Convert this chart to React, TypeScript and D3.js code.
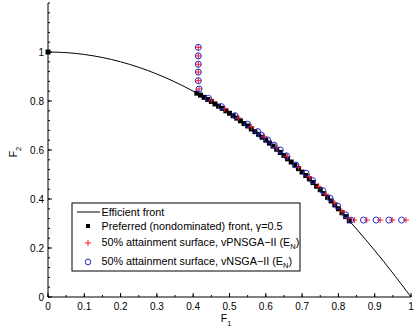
import React from "react";
import * as d3 from "d3";

// Efficient front samples (F1, F2)
const frontF1 = [0, 0.05, 0.1, 0.15, 0.2, 0.25, 0.3, 0.35, 0.4, 0.45, 0.5, 0.55, 0.6, 0.65, 0.7, 0.75, 0.8, 0.85, 0.9, 0.95, 1];
const frontF2 = [1, 0.9975, 0.99, 0.9775, 0.96, 0.9375, 0.91, 0.8775, 0.84, 0.7975, 0.75, 0.6975, 0.64, 0.5775, 0.51, 0.4375, 0.36, 0.2775, 0.19, 0.0975, 0];

// Preferred (nondominated) front points
const prefF1 = [0, 0.41, 0.42, 0.43, 0.44, 0.45, 0.46, 0.47, 0.48, 0.49, 0.5, 0.51, 0.52, 0.53, 0.54, 0.55, 0.56, 0.57, 0.58, 0.59, 0.6, 0.61, 0.62, 0.63, 0.64, 0.65, 0.66, 0.67, 0.68, 0.69, 0.7, 0.71, 0.72, 0.73, 0.74, 0.75, 0.76, 0.77, 0.78, 0.79, 0.8, 0.81, 0.82, 0.83];
const prefF2 = [1, 0.832, 0.824, 0.815, 0.806, 0.798, 0.788, 0.779, 0.77, 0.76, 0.75, 0.74, 0.73, 0.719, 0.708, 0.698, 0.686, 0.675, 0.664, 0.652, 0.64, 0.628, 0.616, 0.603, 0.59, 0.578, 0.564, 0.551, 0.538, 0.524, 0.51, 0.496, 0.482, 0.467, 0.452, 0.438, 0.422, 0.407, 0.392, 0.376, 0.36, 0.344, 0.328, 0.311];

// 50% attainment surface, vPNSGA-II (red +)
const plusF1 = [0.414, 0.414, 0.414, 0.414, 0.414, 0.416, 0.45, 0.487, 0.524, 0.56, 0.595, 0.63, 0.66, 0.69, 0.72, 0.745, 0.765, 0.79, 0.81, 0.828, 0.844, 0.878, 0.915, 0.948, 0.986];
const plusF2 = [1.019, 0.984, 0.95, 0.918, 0.883, 0.849, 0.803, 0.768, 0.731, 0.694, 0.656, 0.61, 0.573, 0.53, 0.49, 0.452, 0.42, 0.383, 0.35, 0.322, 0.314, 0.314, 0.314, 0.314, 0.314];

// 50% attainment surface, vNSGA-II (blue o)
const circF1 = [0.414, 0.414, 0.414, 0.414, 0.414, 0.416, 0.442, 0.478, 0.515, 0.55, 0.578, 0.587, 0.605, 0.623, 0.64, 0.657, 0.683, 0.711, 0.729, 0.757, 0.777, 0.798, 0.82, 0.834, 0.869, 0.904, 0.939, 0.974];
const circF2 = [1.019, 0.984, 0.95, 0.918, 0.883, 0.849, 0.811, 0.777, 0.74, 0.705, 0.675, 0.661, 0.641, 0.62, 0.6, 0.576, 0.539, 0.505, 0.475, 0.434, 0.403, 0.371, 0.335, 0.314, 0.314, 0.314, 0.314, 0.314];

const xTicks = [0, 0.1, 0.2, 0.3, 0.4, 0.5, 0.6, 0.7, 0.8, 0.9, 1];
const yTicks = [0, 0.2, 0.4, 0.6, 0.8, 1];

const FONT = "Arial, 'Liberation Sans', Helvetica, sans-serif";

export default function App() {
  const x = d3.scaleLinear().domain([0, 1]).range([48, 411]);
  const y = d3.scaleLinear().domain([0, 1.2]).range([297, 3]);

  const frontLine = d3
    .line<number>()
    .x((_, i) => x(frontF1[i]))
    .y((d) => y(d))
    .curve(d3.curveCatmullRom)(frontF2);

  const xMinor = d3.range(0, 1.0001, 0.05).map((v) => +v.toFixed(2));
  const yMinor = d3.range(0, 1.2001, 0.04).map((v) => +v.toFixed(2));

  const red = "#ff1a1a";
  const blue = "#2b2bc8";

  const plus = (cx: number, cy: number, k: string) => (
    <g key={k} stroke={red} strokeWidth={1}>
      <line x1={cx - 3} x2={cx + 3} y1={cy} y2={cy} />
      <line x1={cx} x2={cx} y1={cy - 3} y2={cy + 3} />
    </g>
  );

  const LF = 10.8;

  return (
    <svg
      width={420}
      height={333}
      style={{ position: "absolute", left: 0, top: 0, background: "#fff" }}
      fontFamily={FONT}
    >
      {/* efficient front */}
      <path d={frontLine || ""} fill="none" stroke="#000" strokeWidth={1} />

      {/* preferred front squares */}
      {prefF1.map((f, i) => (
        <rect key={"s" + i} x={x(f) - 2.5} y={y(prefF2[i]) - 2.5} width={5} height={5} fill="#000" />
      ))}

      {/* red plus */}
      {plusF1.map((f, i) => plus(x(f), y(plusF2[i]), "p" + i))}

      {/* blue circles */}
      {circF1.map((f, i) => (
        <circle key={"c" + i} cx={x(f)} cy={y(circF2[i])} r={3} fill="none" stroke={blue} strokeWidth={1} />
      ))}

      {/* axes */}
      <line x1={48} x2={411} y1={297} y2={297} stroke="#000" />
      <line x1={48} x2={48} y1={3} y2={297} stroke="#000" />
      {xMinor.map((v, i) => (
        <line key={"xm" + i} x1={x(v)} x2={x(v)} y1={297} y2={295} stroke="#000" />
      ))}
      {xTicks.map((v, i) => (
        <g key={"xt" + i}>
          <line x1={x(v)} x2={x(v)} y1={297} y2={293} stroke="#000" />
          <text x={x(v)} y={310} fontSize={10} textAnchor="middle">
            {String(v)}
          </text>
        </g>
      ))}
      {yMinor.map((v, i) => (
        <line key={"ym" + i} x1={48} x2={50} y1={y(v)} y2={y(v)} stroke="#000" />
      ))}
      {yTicks.map((v, i) => (
        <g key={"yt" + i}>
          <line x1={48} x2={52} y1={y(v)} y2={y(v)} stroke="#000" />
          <text x={44} y={y(v) + 3.5} fontSize={10} textAnchor="end">
            {String(v)}
          </text>
        </g>
      ))}

      {/* axis labels */}
      <text x={226} y={322} fontSize={10.5} textAnchor="middle">
        F<tspan fontSize={7.5} dy={4}>1</tspan>
      </text>
      <text transform="translate(17,152) rotate(-90)" fontSize={10.5} textAnchor="middle">
        F<tspan fontSize={7.5} dy={4}>2</tspan>
      </text>

      {/* legend */}
      <rect x={72} y={203} width={228} height={68} fill="#fff" stroke="#000" strokeWidth={1} />
      <line x1={77} x2={100} y1={212} y2={212} stroke="#000" />
      <text x={101.5} y={216} fontSize={LF}>Efficient front</text>

      <rect x={86} y={224} width={4} height={4} fill="#000" />
      <text x={101.5} y={230} fontSize={LF}>Preferred (nondominated) front, γ=0.5</text>

      {plus(88, 243, "lp")}
      <text x={101.5} y={245.5} fontSize={LF}>
        50% attainment surface, vPNSGA−II (E<tspan fontSize={7.5} dy={3}>N</tspan>
        <tspan dy={-3}>)</tspan>
      </text>

      <circle cx={88} cy={262} r={2.8} fill="none" stroke={blue} strokeWidth={1} />
      <text x={101.5} y={264.5} fontSize={LF}>
        50% attainment surface, vNSGA−II (E<tspan fontSize={7.5} dy={3}>N</tspan>
        <tspan dy={-3}>)</tspan>
      </text>
    </svg>
  );
}
